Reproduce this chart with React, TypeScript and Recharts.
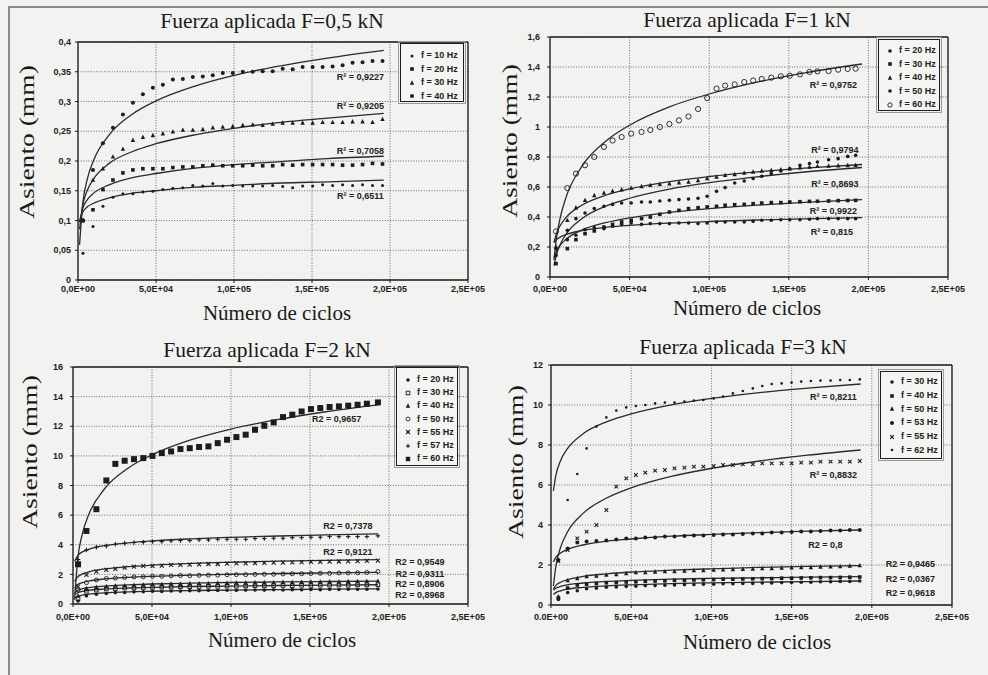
import React from "react";
import {
  ComposedChart, Scatter, Line, XAxis, YAxis, CartesianGrid,
  ReferenceLine, ReferenceDot, Legend,
} from "recharts";

// ---------- shared axis values ----------
const X_TICKS = [0, 50000, 100000, 150000, 200000, 250000];
const X_LABELS = ["0,0E+00", "5,0E+04", "1,0E+05", "1,5E+05", "2,0E+05", "2,5E+05"];
const X_LABELS_DOT = ["0.0E+00", "5,0E+04", "1,0E+05", "1,5E+05", "2,0E+05", "2,5E+05"];

// ---------- F = 0,5 kN ----------
const P1_Y_TICKS = [0, 0.05, 0.1, 0.15, 0.2, 0.25, 0.3, 0.35, 0.4];
const P1_X = [3200, 9600, 16000, 22400, 28800, 35200, 41600, 48000, 54400, 60800, 67200, 73600, 80000, 86400, 92800, 99200, 105600, 112000, 118400, 124800, 131200, 137600, 144000, 150400, 156800, 163200, 169600, 176000, 182400, 188800, 195200];
const P1_F10 = [0.045, 0.09, 0.124, 0.139, 0.145, 0.145, 0.148, 0.149, 0.152, 0.154, 0.155, 0.159, 0.158, 0.162, 0.158, 0.159, 0.158, 0.158, 0.158, 0.159, 0.157, 0.155, 0.158, 0.158, 0.16, 0.159, 0.16, 0.159, 0.16, 0.159, 0.159];
const P1_F20 = [0.1, 0.118, 0.152, 0.168, 0.18, 0.185, 0.187, 0.187, 0.187, 0.189, 0.19, 0.19, 0.192, 0.193, 0.192, 0.192, 0.192, 0.193, 0.192, 0.192, 0.194, 0.193, 0.194, 0.194, 0.194, 0.194, 0.193, 0.193, 0.194, 0.196, 0.195];
const P1_F30 = [0.1, 0.168, 0.187, 0.207, 0.22, 0.235, 0.24, 0.243, 0.246, 0.249, 0.252, 0.252, 0.253, 0.256, 0.257, 0.258, 0.26, 0.261, 0.26, 0.262, 0.264, 0.264, 0.264, 0.264, 0.265, 0.265, 0.265, 0.266, 0.266, 0.265, 0.27];
const P1_F40 = [0.1, 0.185, 0.23, 0.256, 0.278, 0.298, 0.312, 0.323, 0.328, 0.337, 0.338, 0.341, 0.342, 0.344, 0.348, 0.348, 0.35, 0.35, 0.351, 0.351, 0.355, 0.354, 0.358, 0.358, 0.358, 0.359, 0.361, 0.365, 0.366, 0.368, 0.368];
const P1_TX = [1000, 3000, 6000, 10000, 20000, 35000, 50000, 75000, 100000, 130000, 160000, 196000];
const P1_T10 = [0.099, 0.114, 0.123, 0.129, 0.138, 0.146, 0.15, 0.156, 0.159, 0.163, 0.165, 0.168];
const P1_T20 = [0.097, 0.12, 0.135, 0.146, 0.16, 0.172, 0.179, 0.188, 0.194, 0.199, 0.204, 0.208];
const P1_T30 = [0.085, 0.125, 0.151, 0.17, 0.196, 0.216, 0.229, 0.244, 0.255, 0.265, 0.272, 0.28];
const P1_T40 = [0.059, 0.127, 0.17, 0.201, 0.244, 0.279, 0.301, 0.326, 0.344, 0.36, 0.373, 0.386];
const P1_R2 = ["R² = 0,9227", "R² = 0,9205", "R² = 0,7058", "R² = 0,6511"];

// ---------- F = 1 kN ----------
const P2_Y_TICKS = [0, 0.2, 0.4, 0.6, 0.8, 1, 1.2, 1.4, 1.6];
const P2_X = [3800, 10900, 16300, 22000, 27800, 33900, 39300, 45000, 51000, 57500, 63000, 69000, 75000, 81000, 87000, 93000, 98700, 104600, 110000, 116000, 122000, 127600, 133000, 139000, 145000, 150600, 157000, 163000, 168000, 175000, 181000, 187000, 192000];
const P2_F20 = [0.144, 0.249, 0.278, 0.316, 0.329, 0.322, 0.338, 0.351, 0.36, 0.351, 0.356, 0.356, 0.356, 0.36, 0.36, 0.356, 0.36, 0.367, 0.367, 0.367, 0.367, 0.371, 0.378, 0.378, 0.382, 0.382, 0.382, 0.385, 0.389, 0.389, 0.389, 0.389, 0.389];
const P2_F30 = [0.089, 0.189, 0.249, 0.289, 0.307, 0.333, 0.351, 0.367, 0.378, 0.389, 0.4, 0.418, 0.433, 0.444, 0.456, 0.462, 0.467, 0.471, 0.478, 0.482, 0.484, 0.489, 0.493, 0.496, 0.496, 0.5, 0.502, 0.504, 0.505, 0.507, 0.509, 0.51, 0.511];
const P2_F40 = [0.2, 0.378, 0.462, 0.511, 0.544, 0.56, 0.573, 0.582, 0.593, 0.604, 0.611, 0.618, 0.622, 0.629, 0.633, 0.644, 0.656, 0.667, 0.678, 0.684, 0.693, 0.7, 0.707, 0.711, 0.716, 0.722, 0.729, 0.733, 0.738, 0.74, 0.742, 0.744, 0.745];
const P2_F50 = [0.189, 0.311, 0.389, 0.427, 0.456, 0.471, 0.484, 0.493, 0.493, 0.5, 0.5, 0.507, 0.511, 0.516, 0.52, 0.525, 0.538, 0.571, 0.596, 0.627, 0.64, 0.656, 0.671, 0.689, 0.707, 0.722, 0.744, 0.756, 0.767, 0.782, 0.789, 0.804, 0.811];
const P2_F60 = [0.304, 0.593, 0.689, 0.745, 0.8, 0.867, 0.91, 0.933, 0.956, 0.967, 0.98, 1.0, 1.02, 1.044, 1.07, 1.12, 1.193, 1.256, 1.276, 1.284, 1.3, 1.31, 1.32, 1.329, 1.338, 1.342, 1.351, 1.367, 1.371, 1.373, 1.382, 1.387, 1.389];
const P2_TX = [2500, 4000, 6000, 10000, 20000, 35000, 50000, 75000, 100000, 130000, 160000, 196000];
const P2_T20 = [0.23, 0.248, 0.264, 0.283, 0.309, 0.331, 0.344, 0.359, 0.37, 0.38, 0.388, 0.396];
const P2_T30 = [0.128, 0.17, 0.206, 0.251, 0.313, 0.363, 0.394, 0.431, 0.456, 0.479, 0.498, 0.516];
const P2_T40 = [0.231, 0.287, 0.335, 0.396, 0.478, 0.545, 0.587, 0.636, 0.67, 0.701, 0.726, 0.75];
const P2_T50 = [0.076, 0.146, 0.207, 0.284, 0.388, 0.472, 0.525, 0.586, 0.629, 0.668, 0.7, 0.73];
const P2_T60 = [0.113, 0.254, 0.376, 0.529, 0.737, 0.905, 1.012, 1.134, 1.22, 1.299, 1.361, 1.42];
const P2_R2 = ["R² = 0,9752", "R² = 0,9794", "R² = 0,8693", "R² = 0,9922", "R² = 0,815"];

// ---------- F = 2 kN ----------
const P3_Y_TICKS = [0, 2, 4, 6, 8, 10, 12, 14, 16];
const P3_X = [3200, 8500, 14800, 21100, 26800, 32700, 38600, 44500, 50300, 56200, 62100, 68000, 73900, 79800, 85700, 91600, 97500, 103400, 109300, 115200, 121100, 127000, 132900, 138800, 144700, 150600, 156500, 162400, 168300, 174200, 180100, 186000, 193000];
const P3_F20 = [0.2, 0.55, 0.66, 0.71, 0.77, 0.78, 0.82, 0.83, 0.86, 0.85, 0.88, 0.87, 0.9, 0.9, 0.92, 0.91, 0.93, 0.92, 0.94, 0.95, 0.94, 0.96, 0.95, 0.97, 0.96, 0.98, 0.97, 0.99, 0.98, 1.0, 0.99, 1.0, 1.01];
const P3_F30 = [0.35, 0.86, 0.94, 1.01, 1.03, 1.08, 1.08, 1.11, 1.12, 1.14, 1.14, 1.16, 1.17, 1.18, 1.2, 1.19, 1.21, 1.2, 1.22, 1.23, 1.22, 1.24, 1.25, 1.24, 1.26, 1.25, 1.27, 1.27, 1.28, 1.27, 1.29, 1.29, 1.3];
const P3_F40 = [0.55, 1.05, 1.13, 1.19, 1.23, 1.24, 1.28, 1.29, 1.32, 1.32, 1.35, 1.34, 1.37, 1.38, 1.38, 1.41, 1.4, 1.43, 1.42, 1.44, 1.45, 1.45, 1.47, 1.46, 1.48, 1.49, 1.49, 1.51, 1.5, 1.52, 1.53, 1.53, 1.55];
const P3_F50 = [0.95, 1.44, 1.62, 1.72, 1.75, 1.79, 1.83, 1.84, 1.87, 1.87, 1.9, 1.92, 1.91, 1.94, 1.95, 1.95, 1.97, 1.98, 1.98, 2.0, 2.01, 2.01, 2.03, 2.04, 2.04, 2.06, 2.07, 2.07, 2.09, 2.1, 2.11, 2.13, 2.19];
const P3_F55 = [1.17, 1.96, 2.19, 2.3, 2.37, 2.46, 2.52, 2.57, 2.57, 2.59, 2.64, 2.64, 2.66, 2.68, 2.7, 2.7, 2.72, 2.74, 2.75, 2.76, 2.78, 2.79, 2.8, 2.81, 2.82, 2.84, 2.85, 2.86, 2.87, 2.88, 2.9, 2.91, 2.93];
const P3_F57 = [3.0, 3.65, 3.83, 3.92, 4.03, 4.1, 4.15, 4.17, 4.21, 4.21, 4.26, 4.28, 4.28, 4.33, 4.33, 4.37, 4.37, 4.37, 4.37, 4.42, 4.42, 4.44, 4.44, 4.48, 4.48, 4.51, 4.51, 4.55, 4.55, 4.55, 4.55, 4.55, 4.6];
const P3_F60 = [2.68, 4.93, 6.4, 8.34, 9.46, 9.67, 9.78, 9.85, 10.0, 10.19, 10.3, 10.46, 10.52, 10.6, 10.64, 10.86, 11.09, 11.27, 11.43, 11.76, 12.03, 12.26, 12.62, 12.78, 13.0, 13.16, 13.23, 13.3, 13.34, 13.39, 13.45, 13.52, 13.61];
const P3_TX = [1000, 3000, 6000, 10000, 20000, 35000, 50000, 75000, 100000, 130000, 160000, 193000];
const P3_T20 = [0.39, 0.52, 0.6, 0.67, 0.75, 0.82, 0.86, 0.91, 0.94, 0.97, 1.0, 1.02];
const P3_T30 = [0.62, 0.76, 0.85, 0.92, 1.01, 1.08, 1.12, 1.18, 1.21, 1.25, 1.28, 1.3];
const P3_T40 = [0.76, 0.93, 1.03, 1.11, 1.21, 1.29, 1.35, 1.41, 1.45, 1.49, 1.52, 1.55];
const P3_T50 = [1.09, 1.31, 1.45, 1.55, 1.69, 1.8, 1.87, 1.95, 2.01, 2.06, 2.1, 2.14];
const P3_T55 = [1.53, 1.83, 2.03, 2.17, 2.37, 2.52, 2.62, 2.74, 2.82, 2.89, 2.95, 3.0];
const P3_T57 = [2.89, 3.27, 3.52, 3.69, 3.94, 4.13, 4.26, 4.4, 4.5, 4.59, 4.66, 4.73];
const P3_T60 = [0.29, 3.04, 4.77, 6.05, 7.78, 9.18, 10.07, 11.09, 11.81, 12.46, 12.98, 13.45];
const P3_R2 = ["R2 = 0,9657", "R2 = 0,7378", "R2 = 0,9121", "R2 = 0,9549", "R2 = 0,9311", "R2 = 0,8906", "R2 = 0,8968"];

// ---------- F = 3 kN ----------
const P4_Y_TICKS = [0, 2, 4, 6, 8, 10, 12];
const P4_X = [4600, 10400, 16400, 22200, 28300, 34500, 40700, 46900, 52900, 58800, 64900, 71000, 77000, 83200, 89100, 95000, 101400, 107300, 113400, 119600, 125800, 131700, 137600, 143800, 150000, 156000, 162000, 168000, 174300, 180300, 186300, 192500];
const P4_F30 = [0.28, 0.62, 0.71, 0.81, 0.84, 0.89, 0.9, 0.93, 0.94, 0.97, 0.97, 0.99, 1.0, 1.02, 1.02, 1.04, 1.04, 1.06, 1.06, 1.08, 1.08, 1.1, 1.1, 1.12, 1.12, 1.14, 1.14, 1.16, 1.16, 1.18, 1.18, 1.2];
const P4_F40 = [0.35, 0.85, 1.0, 1.04, 1.07, 1.11, 1.12, 1.15, 1.16, 1.19, 1.2, 1.21, 1.23, 1.23, 1.25, 1.26, 1.27, 1.29, 1.29, 1.3, 1.31, 1.32, 1.32, 1.34, 1.34, 1.35, 1.36, 1.37, 1.37, 1.38, 1.39, 1.4];
const P4_F50 = [0.42, 1.22, 1.33, 1.42, 1.45, 1.5, 1.53, 1.58, 1.62, 1.63, 1.65, 1.67, 1.68, 1.7, 1.72, 1.73, 1.75, 1.76, 1.78, 1.79, 1.8, 1.82, 1.83, 1.85, 1.86, 1.87, 1.88, 1.9, 1.91, 1.92, 1.95, 1.97];
const P4_F53 = [2.25, 2.83, 3.12, 3.17, 3.2, 3.22, 3.28, 3.32, 3.33, 3.37, 3.38, 3.42, 3.42, 3.45, 3.47, 3.47, 3.5, 3.52, 3.53, 3.55, 3.58, 3.58, 3.62, 3.63, 3.65, 3.67, 3.68, 3.7, 3.72, 3.73, 3.75, 3.75];
const P4_F55 = [2.2, 2.75, 3.33, 3.67, 4.0, 4.75, 5.92, 6.33, 6.5, 6.62, 6.72, 6.75, 6.83, 6.87, 6.92, 6.92, 6.95, 7.0, 7.0, 7.03, 7.03, 7.08, 7.08, 7.08, 7.08, 7.12, 7.12, 7.17, 7.17, 7.17, 7.17, 7.2];
const P4_F62 = [2.2, 5.25, 6.55, 7.83, 8.92, 9.38, 9.72, 9.88, 9.95, 10.0, 10.08, 10.12, 10.12, 10.17, 10.22, 10.25, 10.33, 10.42, 10.58, 10.7, 10.83, 10.95, 11.05, 11.08, 11.12, 11.17, 11.2, 11.22, 11.22, 11.25, 11.25, 11.28];
const P4_TX = [1500, 3000, 6000, 10000, 20000, 35000, 50000, 75000, 100000, 130000, 160000, 193000];
const P4_T30 = [0.52, 0.62, 0.71, 0.79, 0.88, 0.96, 1.01, 1.07, 1.11, 1.14, 1.17, 1.2];
const P4_T40 = [0.74, 0.84, 0.93, 1.01, 1.1, 1.18, 1.23, 1.29, 1.33, 1.36, 1.39, 1.42];
const P4_T50 = [0.8, 0.97, 1.14, 1.26, 1.43, 1.56, 1.65, 1.74, 1.81, 1.88, 1.93, 1.97];
const P4_T53 = [2.15, 2.38, 2.6, 2.77, 3.0, 3.19, 3.3, 3.44, 3.53, 3.62, 3.69, 3.75];
const P4_T55 = [0.95, 1.92, 2.89, 3.61, 4.58, 5.36, 5.86, 6.43, 6.83, 7.2, 7.49, 7.75];
const P4_T62 = [5.71, 6.47, 7.23, 7.79, 8.56, 9.17, 9.56, 10.01, 10.33, 10.62, 10.84, 11.05];
const P4_R2 = ["R² = 0,8211", "R² = 0,8832", "R2 = 0,8", "R2 = 0,9465", "R2 = 0,0367", "R2 = 0,9618"];

// ---------- styling ----------
const INK = "#1d1d1d";
const SANS = "'Liberation Sans', Arial, sans-serif";
const SERIF = "'Liberation Serif', 'Times New Roman', serif";

const pts = (xs: number[], ys: number[]) => xs.map((x, i) => ({ x, y: ys[i] }));

function Mark({ kind, cx, cy, s }: { kind: string; cx: number; cy: number; s: number }) {
  if (cx == null || cy == null) return null;
  switch (kind) {
    case "sq":
      return <rect x={cx - s} y={cy - s} width={2 * s} height={2 * s} fill={INK} />;
    case "osq":
      return <rect x={cx - s} y={cy - s} width={2 * s} height={2 * s} fill="none" stroke={INK} strokeWidth={0.9} />;
    case "tri":
      return <polygon points={`${cx},${cy - s * 1.2} ${cx - s},${cy + s * 0.8} ${cx + s},${cy + s * 0.8}`} fill={INK} />;
    case "ocirc":
      return <circle cx={cx} cy={cy} r={s} fill="none" stroke={INK} strokeWidth={0.9} />;
    case "x":
      return (
        <g stroke={INK} strokeWidth={1.1}>
          <line x1={cx - s} y1={cy - s} x2={cx + s} y2={cy + s} />
          <line x1={cx - s} y1={cy + s} x2={cx + s} y2={cy - s} />
        </g>
      );
    case "plus":
      return (
        <g stroke={INK} strokeWidth={1.1}>
          <line x1={cx - s} y1={cy} x2={cx + s} y2={cy} />
          <line x1={cx} y1={cy - s} x2={cx} y2={cy + s} />
        </g>
      );
    default:
      return <circle cx={cx} cy={cy} r={s} fill={INK} />;
  }
}

interface Serie { name: string; kind: string; s: number; ys: number[] }
interface Note { x: number; y: number; text: string }
interface PanelCfg {
  box: { x0: number; y0: number; x1: number; y1: number };
  yTicks: number[];
  xLabels: string[];
  xGap: number;
  yGap: number;
  px: number[];
  series: Serie[];
  tx: number[];
  trends: number[][];
  notes: Note[];
  legend: { x: number; y: number; w: number; h: number; pad: number; row: number };
  title: { text: string; x: number; y: number };
  xTitle: { x: number; y: number };
  yTitle: { x: number; y: number };
}

const PANELS: PanelCfg[] = [
  {
    box: { x0: 78, y0: 42, x1: 468, y1: 280 },
    yTicks: P1_Y_TICKS, xLabels: X_LABELS, xGap: 3, yGap: 4,
    px: P1_X,
    series: [
      { name: "f = 10 Hz", kind: "dot", s: 1.5, ys: P1_F10 },
      { name: "f = 20 Hz", kind: "sq", s: 1.8, ys: P1_F20 },
      { name: "f = 30 Hz", kind: "tri", s: 2.2, ys: P1_F30 },
      { name: "f = 40 Hz", kind: "dot", s: 2, ys: P1_F40 },
    ],
    tx: P1_TX, trends: [P1_T10, P1_T20, P1_T30, P1_T40],
    notes: [
      { x: 181000, y: 0.341, text: P1_R2[0] },
      { x: 181000, y: 0.292, text: P1_R2[1] },
      { x: 181000, y: 0.217, text: P1_R2[2] },
      { x: 181000, y: 0.141, text: P1_R2[3] },
    ],
    legend: { x: 400, y: 43, w: 64, h: 59, pad: 5, row: 13.5 },
    title: { text: "Fuerza aplicada F=0,5 kN", x: 272, y: 22 },
    xTitle: { x: 277, y: 313 }, yTitle: { x: 28, y: 142 },
  },
  {
    box: { x0: 550, y0: 37, x1: 948, y1: 277 },
    yTicks: P2_Y_TICKS, xLabels: X_LABELS, xGap: 6, yGap: 7,
    px: P2_X,
    series: [
      { name: "f = 20 Hz", kind: "dot", s: 1.8, ys: P2_F20 },
      { name: "f = 30 Hz", kind: "sq", s: 1.8, ys: P2_F30 },
      { name: "f = 40 Hz", kind: "tri", s: 2.2, ys: P2_F40 },
      { name: "f = 50 Hz", kind: "dot", s: 1.8, ys: P2_F50 },
      { name: "f = 60 Hz", kind: "ocirc", s: 2.6, ys: P2_F60 },
    ],
    tx: P2_TX, trends: [P2_T20, P2_T30, P2_T40, P2_T50, P2_T60],
    notes: [
      { x: 178000, y: 1.284, text: P2_R2[0] },
      { x: 179000, y: 0.851, text: P2_R2[1] },
      { x: 179000, y: 0.618, text: P2_R2[2] },
      { x: 178000, y: 0.44, text: P2_R2[3] },
      { x: 177000, y: 0.3, text: P2_R2[4] },
    ],
    legend: { x: 878, y: 39, w: 62, h: 72, pad: 4, row: 13.5 },
    title: { text: "Fuerza aplicada F=1 kN", x: 747, y: 21 },
    xTitle: { x: 747, y: 308 }, yTitle: { x: 511, y: 141 },
  },
  {
    box: { x0: 73, y0: 367, x1: 468, y1: 604 },
    yTicks: P3_Y_TICKS, xLabels: X_LABELS, xGap: 7, yGap: 7,
    px: P3_X,
    series: [
      { name: "f = 20 Hz", kind: "dot", s: 1.8, ys: P3_F20 },
      { name: "f = 30 Hz", kind: "osq", s: 1.8, ys: P3_F30 },
      { name: "f = 40 Hz", kind: "tri", s: 2.2, ys: P3_F40 },
      { name: "f = 50 Hz", kind: "ocirc", s: 2, ys: P3_F50 },
      { name: "f = 55 Hz", kind: "x", s: 2, ys: P3_F55 },
      { name: "f = 57 Hz", kind: "plus", s: 2.2, ys: P3_F57 },
      { name: "f = 60 Hz", kind: "sq", s: 3, ys: P3_F60 },
    ],
    tx: P3_TX, trends: [P3_T20, P3_T30, P3_T40, P3_T50, P3_T55, P3_T57, P3_T60],
    notes: [
      { x: 166800, y: 12.48, text: P3_R2[0] },
      { x: 174000, y: 5.27, text: P3_R2[1] },
      { x: 174000, y: 3.49, text: P3_R2[2] },
      { x: 219500, y: 2.82, text: P3_R2[3] },
      { x: 219500, y: 2.07, text: P3_R2[4] },
      { x: 219500, y: 1.35, text: P3_R2[5] },
      { x: 219500, y: 0.65, text: P3_R2[6] },
    ],
    legend: { x: 396, y: 367, w: 62, h: 99, pad: 5, row: 13.2 },
    title: { text: "Fuerza aplicada F=2 kN", x: 267, y: 351 },
    xTitle: { x: 282, y: 640 }, yTitle: { x: 31, y: 452 },
  },
  {
    box: { x0: 551, y0: 365, x1: 952, y1: 605 },
    yTicks: P4_Y_TICKS, xLabels: X_LABELS_DOT, xGap: 6, yGap: 5,
    px: P4_X,
    series: [
      { name: "f = 30 Hz", kind: "dot", s: 1.8, ys: P4_F30 },
      { name: "f = 40 Hz", kind: "sq", s: 1.8, ys: P4_F40 },
      { name: "f = 50 Hz", kind: "tri", s: 2.2, ys: P4_F50 },
      { name: "f = 53 Hz", kind: "dot", s: 2, ys: P4_F53 },
      { name: "f = 55 Hz", kind: "x", s: 1.8, ys: P4_F55 },
      { name: "f = 62 Hz", kind: "dot", s: 1.3, ys: P4_F62 },
    ],
    tx: P4_TX, trends: [P4_T30, P4_T40, P4_T50, P4_T53, P4_T55, P4_T62],
    notes: [
      { x: 176000, y: 10.42, text: P4_R2[0] },
      { x: 176000, y: 6.5, text: P4_R2[1] },
      { x: 171000, y: 3.0, text: P4_R2[2] },
      { x: 224000, y: 2.08, text: P4_R2[3] },
      { x: 224000, y: 1.33, text: P4_R2[4] },
      { x: 224000, y: 0.63, text: P4_R2[5] },
    ],
    legend: { x: 880, y: 371, w: 62, h: 88, pad: 3, row: 13.7 },
    title: { text: "Fuerza aplicada F=3 kN", x: 743, y: 348 },
    xTitle: { x: 757, y: 642 }, yTitle: { x: 517, y: 462 },
  },
];

function LegendBox({ cfg }: { cfg: PanelCfg }) {
  const lg = cfg.legend;
  return (
    <div
      style={{
        width: lg.w, height: lg.h, boxSizing: "border-box", border: `1.2px solid ${INK}`,
        outline: "1px solid #9a9a9a", outlineOffset: 1, background: "#f4f4f2",
        paddingTop: lg.pad, fontFamily: SANS, fontSize: 9, fontWeight: 700, color: "#222",
      }}
    >
      {cfg.series.map((s) => (
        <div key={s.name} style={{ height: lg.row, display: "flex", alignItems: "center" }}>
          <svg width={20} height={10} style={{ flex: "none" }}>
            <Mark kind={s.kind} cx={11} cy={5} s={Math.min(s.s, 2.2)} />
          </svg>
          <span style={{ whiteSpace: "nowrap", lineHeight: 1 }}>{s.name}</span>
        </div>
      ))}
    </div>
  );
}

const centered = (x: number, y: number, extra = ""): React.CSSProperties => ({
  position: "absolute", left: x, top: y, transform: `translate(-50%, -50%) ${extra}`,
  whiteSpace: "nowrap", lineHeight: 1, fontFamily: SERIF, color: "#1a1a1a",
});

function Panel({ cfg }: { cfg: PanelCfg }) {
  const { box } = cfg;
  const left = box.x0 - 48;
  const top = box.y0 - 10;
  const W = box.x1 - box.x0 + 48 + 30;
  const H = box.y1 - box.y0 + 40;
  const yMax = cfg.yTicks[cfg.yTicks.length - 1];
  const tickStyle = { fontSize: 9, fontWeight: 700, fill: "#222", fontFamily: SANS };
  return (
    <>
      <div style={centered(cfg.title.x, cfg.title.y)}><span style={{ fontSize: 21.5 }}>{cfg.title.text}</span></div>
      <div style={centered(cfg.xTitle.x, cfg.xTitle.y)}><span style={{ fontSize: 21 }}>Número de ciclos</span></div>
      <div style={{ ...centered(cfg.yTitle.x, cfg.yTitle.y, "rotate(-90deg) scaleX(1.28)"), fontSize: 21.5 }}>Asiento (mm)</div>
      <div style={{ position: "absolute", left, top, width: W, height: H }}>
        <ComposedChart width={W} height={H} margin={{ top: 10, right: 30, bottom: 0, left: 0 }}>
          <CartesianGrid stroke="#6a6a6a" strokeDasharray="1 1.6" />
          <XAxis
            type="number" dataKey="x" domain={[0, 250000]} ticks={X_TICKS} interval={0}
            tickFormatter={(v: number) => cfg.xLabels[X_TICKS.indexOf(v)] ?? ""}
            tick={tickStyle} tickSize={3} tickMargin={cfg.xGap} height={30}
            axisLine={{ stroke: INK, strokeWidth: 1.3 }} tickLine={{ stroke: INK }}
          />
          <YAxis
            type="number" dataKey="y" domain={[0, yMax]} ticks={cfg.yTicks} interval={0}
            tickFormatter={(v: number) => String(v).replace(".", ",")}
            tick={tickStyle} tickSize={3} tickMargin={cfg.yGap} width={48}
            axisLine={{ stroke: INK, strokeWidth: 1.3 }} tickLine={{ stroke: INK }}
          />
          <ReferenceLine y={yMax} stroke={INK} strokeWidth={1.3} />
          <ReferenceLine x={250000} stroke={INK} strokeWidth={1.3} />
          {cfg.series.map((s) => (
            <Scatter
              key={s.name} name={s.name} data={pts(cfg.px, s.ys)} isAnimationActive={false}
              shape={(p: any) => <Mark kind={s.kind} cx={p.cx} cy={p.cy} s={s.s} />}
            />
          ))}
          {cfg.trends.map((t, i) => (
            <Line
              key={"t" + i} data={pts(cfg.tx, t)} dataKey="y" type="monotone" dot={false}
              activeDot={false} stroke="#2a2a2a" strokeWidth={1.3} legendType="none"
              isAnimationActive={false}
            />
          ))}
          {cfg.notes.map((n) => (
            <ReferenceDot
              key={n.text + n.y} x={n.x} y={n.y} r={0} fill="none" stroke="none"
              label={{ value: n.text, position: "center", fontSize: 9, fontWeight: 700, fill: "#222", fontFamily: SANS }}
            />
          ))}
          <Legend
            layout="horizontal" verticalAlign="middle" align="center"
            wrapperStyle={{ left: cfg.legend.x - left, top: cfg.legend.y - top, width: cfg.legend.w, height: cfg.legend.h }}
            content={() => <LegendBox cfg={cfg} />}
          />
        </ComposedChart>
      </div>
    </>
  );
}

export default function App() {
  return (
    <div style={{ position: "absolute", left: 0, top: 0, width: 988, height: 675, background: "#f2f2f0", overflow: "hidden" }}>
      <div style={{ position: "absolute", left: 8, top: 6, width: 990, height: 680, borderLeft: "2px solid #8a8a8a", borderTop: "2px solid #8a8a8a" }} />
      {PANELS.map((p, i) => <Panel key={i} cfg={p} />)}
    </div>
  );
}
